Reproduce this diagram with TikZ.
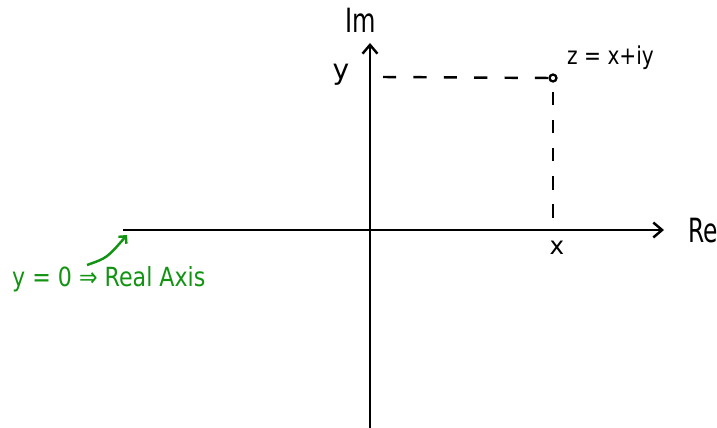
\documentclass[tikz,border=0pt]{standalone}
\usepackage{fontspec}
\setmainfont{DejaVu Sans}
\usepackage{xcolor}
\usepackage{graphicx}
\usetikzlibrary{arrows.meta,positioning,calc}
\definecolor{noteGreen}{RGB}{18,148,18}
\newcommand{\narrow}[2]{\scalebox{#1}[1]{#2}}

\begin{document}
\begin{tikzpicture}[x=0.02cm, y=-0.02cm, >={Straight Barb[length=5pt,width=8.5pt]}, line width=1.4pt]
    \tikzset{label/.style={inner sep=0pt}}
    \useasboundingbox (0,0) rectangle (717,428);
    % axes
    \coordinate (reStart) at (123,230);
    \coordinate (reEnd) at (664,230);
    \coordinate (imStart) at (370,428);
    \coordinate (imEnd) at (370,43);
    \node [label, font=\fontsize{19}{22}\selectfont, anchor=base west] (re) at (687,243) {\narrow{0.7}{Re}};
    \node [label, font=\fontsize{19}{22}\selectfont, anchor=base] (im) at (361,33) {\narrow{0.72}{Im}};
    \draw [->] (reStart) -- (reEnd);
    \draw [->] (imStart) -- (imEnd);

    % the point z and its parts
    \node [circle, draw, line width=1.3pt, inner sep=1.4pt] (z) at (553,78) {};
    \node [label, font=\fontsize{14}{16}\selectfont, anchor=base west] (zLab) at (566,65) {\narrow{0.82}{z = x+iy}};
    \node [label, font=\fontsize{16}{18}\selectfont] (yLab) at (341,75) {y};
    \node [label, font=\fontsize{14}{16}\selectfont] (xLab) at (557,248) {x};
    \coordinate (yFoot) at (383,77);
    \coordinate (zDrop) at (553,92);
    \coordinate (xFoot) at (553,218);
    \draw [dash pattern=on 7.5pt off 9.8pt] (yFoot) -- (z.west);
    \draw [dash pattern=on 7.5pt off 8.5pt] (zDrop) -- (xFoot);

    % note on the real axis
    \node [label, font=\fontsize{15}{18}\selectfont, text=noteGreen, anchor=base west] (note) at (11,287) {\narrow{0.84}{y = 0 ⇒ Real Axis}};
    \coordinate (noteTip) at (87,265);
    \coordinate (noteEnd) at (127,235);
    \draw [-{Straight Barb[length=3pt,width=6pt]}, noteGreen] (noteTip) .. controls (107,258) .. (noteEnd);
\end{tikzpicture}
\end{document}
